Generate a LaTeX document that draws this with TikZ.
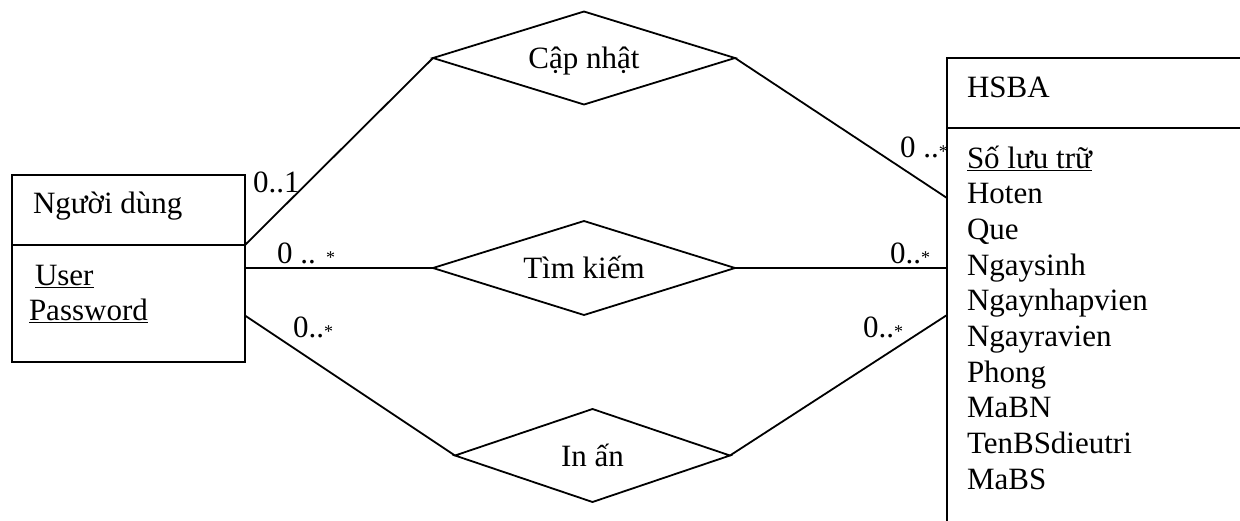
\documentclass[tikz,border=0pt]{standalone}
\usepackage{fontspec}
\setmainfont{Liberation Serif}
\usetikzlibrary{shapes.geometric}
\newcommand\multsize{\fontsize{18}{18}\selectfont}

\begin{document}
\begin{tikzpicture}[x=1pt,y=-1pt,line width=1.8pt,
  every node/.style={font=\fontsize{31}{35.5}\selectfont,inner sep=0pt,outer sep=0pt},
  box/.style={draw,rectangle},
  rel/.style={draw,diamond,aspect=3.2,text height=28pt,text depth=7pt},
  txt/.style={anchor=base west}]
  \path[use as bounding box,clip] (0,0) rectangle (1240,520);

  % Nguoi dung
  \node[box,minimum width=233pt,minimum height=70pt] (nd) at (128.5,210){};
  \node[box,minimum width=233pt,minimum height=117pt] (ndbody) at (128.5,303.5){};
  \node[txt] (ndname) at (33,213){Người dùng};
  \node[txt] (user) at (35,285){\underline{User}};
  \node[txt] (pass) at (29,320){\underline{Password}};

  % HSBA
  \node[box,minimum width=315pt,minimum height=70pt] (hsba) at (1104.5,93){};
  \node[box,minimum width=315pt,minimum height=412pt] (hsbabody) at (1104.5,334){};
  \node[txt] (hsbaname) at (967,97){HSBA};
  \node[txt] (h0) at (967,168){\underline{Số lưu trữ}};
  \foreach \a [count=\i] in {Hoten,Que,Ngaysinh,Ngaynhapvien,Ngayravien,Phong,MaBN,TenBSdieutri,MaBS}
    \node[txt] (h\i) at (967,168+35.7*\i){\a};

  % quan he
  \node[rel,minimum width=302pt,minimum height=93pt] (capnhat) at (584,58){Cập nhật};
  \node[rel,minimum width=302pt,minimum height=94pt] (timkiem) at (584,268){Tìm kiếm};
  \node[rel,minimum width=275pt,minimum height=93pt] (inan) at (592.5,455.5){In ấn};

  \draw (ndbody.north east)--(capnhat.west);
  \draw (capnhat.east)--([yshift=-70pt]hsbabody.north west);
  \draw (ndbody.east |- timkiem.west)--(timkiem.west);
  \draw (timkiem.east)--(timkiem.east -| hsbabody.west);
  \draw ([yshift=-12pt]ndbody.east)--(inan.west);
  \draw (inan.east)--([yshift=-187pt]hsbabody.north west);

  % so luong
  \node[txt] (m1) at (253,192){0..1};
  \node[txt] (m2) at (277,263){0 .. {\multsize*}};
  \node[txt] (m3) at (293,337){0..{\multsize*}};
  \node[txt] (m4) at (900,157){0 ..{\multsize*}};
  \node[txt] (m5) at (890,263){0..{\multsize*}};
  \node[txt] (m6) at (863,337){0..{\multsize*}};
\end{tikzpicture}
\end{document}
